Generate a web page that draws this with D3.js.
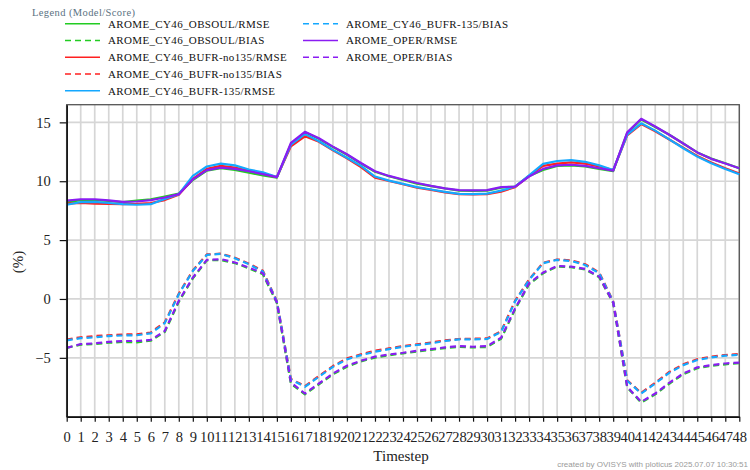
<!DOCTYPE html>
<html>
<head>
<meta charset="utf-8">
<script src="https://cdn.jsdelivr.net/npm/d3@7"></script>
<style>
  html, body { margin: 0; padding: 0; background: #fff; }
  svg { display: block; }
</style>
</head>
<body>
<svg id="chart" width="750" height="470"></svg>
<script>
// Timesteps 0..48
const timesteps = d3.range(0, 49);

// RMSE (%) per timestep
const obsoulRmse = [8.20, 8.40, 8.40, 8.32, 8.22, 8.35, 8.47, 8.70, 8.95, 10.10, 10.90, 11.10, 10.96, 10.73, 10.50, 10.30, 13.15, 14.15, 13.60, 12.90, 12.25, 11.50, 10.80, 10.42, 10.10, 9.80, 9.58, 9.38, 9.20, 9.18, 9.20, 9.45, 9.55, 10.45, 10.96, 11.30, 11.35, 11.25, 11.05, 10.85, 14.10, 15.25, 14.60, 13.95, 13.20, 12.45, 11.92, 11.52, 11.10];
const no135Rmse  = [8.10, 8.15, 8.10, 8.08, 8.05, 8.08, 8.15, 8.40, 8.85, 10.20, 11.05, 11.30, 11.15, 10.90, 10.65, 10.35, 12.97, 13.82, 13.35, 12.62, 11.95, 11.20, 10.30, 10.02, 9.74, 9.45, 9.26, 9.06, 8.90, 8.88, 8.90, 9.11, 9.50, 10.45, 11.30, 11.50, 11.60, 11.50, 11.25, 10.95, 13.90, 14.85, 14.25, 13.55, 12.85, 12.15, 11.60, 11.10, 10.65];
const b135Rmse   = [8.00, 8.22, 8.25, 8.15, 8.05, 8.00, 8.05, 8.50, 8.90, 10.45, 11.25, 11.50, 11.35, 11.00, 10.75, 10.35, 13.10, 14.00, 13.40, 12.66, 12.00, 11.30, 10.40, 10.05, 9.78, 9.50, 9.30, 9.10, 8.93, 8.90, 8.95, 9.20, 9.55, 10.50, 11.48, 11.72, 11.80, 11.65, 11.35, 10.95, 13.95, 14.92, 14.30, 13.56, 12.80, 12.09, 11.52, 11.04, 10.60];
const operRmse   = [8.35, 8.47, 8.47, 8.38, 8.25, 8.28, 8.40, 8.62, 8.90, 10.15, 10.95, 11.15, 11.05, 10.85, 10.60, 10.35, 13.25, 14.20, 13.65, 12.94, 12.29, 11.55, 10.85, 10.45, 10.15, 9.85, 9.60, 9.40, 9.25, 9.22, 9.25, 9.50, 9.55, 10.40, 11.05, 11.35, 11.40, 11.30, 11.10, 10.90, 14.15, 15.30, 14.65, 13.95, 13.20, 12.45, 11.90, 11.50, 11.10];

// BIAS (%) per timestep
const obsoulBias = [-4.15, -3.88, -3.82, -3.72, -3.65, -3.68, -3.55, -2.80, -0.25, 1.75, 3.28, 3.30, 3.05, 2.60, 2.10, -0.35, -7.20, -8.10, -7.25, -6.40, -5.75, -5.30, -4.98, -4.78, -4.62, -4.46, -4.32, -4.18, -4.06, -4.12, -4.08, -3.38, -0.88, 1.25, 2.18, 2.75, 2.70, 2.50, 1.85, -0.35, -7.52, -8.80, -8.10, -7.20, -6.40, -5.88, -5.68, -5.55, -5.46];
const no135Bias  = [-3.45, -3.25, -3.15, -3.08, -3.02, -3.00, -2.85, -1.98, 0.45, 2.42, 3.78, 3.85, 3.50, 3.00, 2.40, -0.20, -6.80, -7.40, -6.55, -5.70, -5.05, -4.70, -4.40, -4.20, -4.00, -3.85, -3.70, -3.52, -3.40, -3.38, -3.35, -2.75, -0.15, 1.65, 3.08, 3.35, 3.28, 2.95, 2.25, -0.20, -6.90, -7.98, -7.12, -6.20, -5.55, -5.12, -4.90, -4.76, -4.68];
const b135Bias   = [-3.52, -3.33, -3.26, -3.15, -3.10, -3.08, -2.92, -2.05, 0.40, 2.38, 3.74, 3.83, 3.46, 2.95, 2.33, -0.23, -6.85, -7.46, -6.61, -5.76, -5.13, -4.77, -4.48, -4.26, -4.06, -3.91, -3.77, -3.57, -3.43, -3.43, -3.40, -2.80, -0.20, 1.62, 3.04, 3.32, 3.23, 2.89, 2.19, -0.23, -6.95, -8.03, -7.18, -6.27, -5.62, -5.19, -4.96, -4.82, -4.74];
const operBias   = [-4.15, -3.83, -3.77, -3.65, -3.57, -3.57, -3.48, -2.72, -0.15, 1.81, 3.32, 3.38, 3.10, 2.67, 2.19, -0.30, -7.10, -8.03, -7.18, -6.33, -5.67, -5.25, -4.90, -4.71, -4.57, -4.40, -4.26, -4.11, -4.00, -4.06, -4.00, -3.30, -0.80, 1.33, 2.24, 2.81, 2.75, 2.55, 1.90, -0.30, -7.46, -8.74, -8.03, -7.12, -6.33, -5.81, -5.62, -5.48, -5.40];

const yTickValues = [-5, 0, 5, 10, 15];

const seriesNames = [
  "AROME_CY46_OBSOUL/RMSE", "AROME_CY46_OBSOUL/BIAS",
  "AROME_CY46_BUFR-no135/RMSE", "AROME_CY46_BUFR-no135/BIAS",
  "AROME_CY46_BUFR-135/RMSE", "AROME_CY46_BUFR-135/BIAS",
  "AROME_OPER/RMSE", "AROME_OPER/BIAS"
];
const seriesValues = [obsoulRmse, obsoulBias, no135Rmse, no135Bias, b135Rmse, b135Bias, operRmse, operBias];
const seriesColors = ["#22cc22", "#22cc22", "#ff2020", "#ff2020", "#14a8ff", "#14a8ff", "#8a1cf2", "#8a1cf2"];
const seriesDashed = [false, true, false, true, false, true, false, true];

const series = seriesNames.map((name, i) => ({
  name, values: seriesValues[i], color: seriesColors[i], dashed: seriesDashed[i]
}));

const svg = d3.select("#chart");
const serif = "'Liberation Serif', 'Times New Roman', serif";

const plot = { left: 66.7, right: 739.3, top: 104.7, bottom: 416.7 };
const x = d3.scaleLinear().domain([0, 48]).range([plot.left, plot.right]);
const y = d3.scaleLinear().domain([-10, 16.5]).range([plot.bottom, plot.top]);

// grid
const grid = svg.append("g");
grid.selectAll("line.v").data(timesteps).join("line")
  .attr("x1", d => x(d)).attr("x2", d => x(d))
  .attr("y1", plot.top).attr("y2", plot.bottom)
  .attr("stroke", "#d6d6d6").attr("stroke-width", 1.7);
grid.selectAll("line.h").data(yTickValues).join("line")
  .attr("x1", plot.left).attr("x2", plot.right)
  .attr("y1", d => y(d)).attr("y2", d => y(d))
  .attr("stroke", "#d6d6d6").attr("stroke-width", 1.7);

// frame
svg.append("rect")
  .attr("x", plot.left).attr("y", plot.top)
  .attr("width", plot.right - plot.left).attr("height", plot.bottom - plot.top)
  .attr("fill", "none").attr("stroke", "#555").attr("stroke-width", 1.3);

// lines
const line = d3.line().x((d, i) => x(timesteps[i])).y(d => y(d));
svg.append("g").selectAll("path").data(series).join("path")
  .attr("d", d => line(d.values))
  .attr("fill", "none")
  .attr("stroke", d => d.color)
  .attr("stroke-width", 2.2)
  .attr("stroke-dasharray", d => d.dashed ? "6,4" : null)
  .attr("stroke-linejoin", "round");

// axes
const xAxis = d3.axisBottom(x).tickValues(timesteps).tickFormat(d3.format("d"))
  .tickSize(5).tickSizeOuter(0).tickPadding(10);
const gx = svg.append("g").attr("transform", `translate(0,${plot.bottom})`).call(xAxis);
gx.selectAll("text").attr("font-family", serif).attr("font-size", 14.5).attr("fill", "#222");

const yAxis = d3.axisLeft(y).tickValues(yTickValues).tickFormat(d3.format("d"))
  .tickSize(7).tickSizeOuter(0).tickPadding(9);
const gy = svg.append("g").attr("transform", `translate(${plot.left},0)`).call(yAxis);
gy.selectAll("text").attr("font-family", serif).attr("font-size", 14.5).attr("fill", "#222");

[gx, gy].forEach(g => {
  g.select(".domain").attr("stroke", "#111").attr("stroke-width", 1.5);
  g.selectAll(".tick line").attr("stroke", "#111").attr("stroke-width", 1.2);
});

// axis titles
svg.append("text")
  .attr("x", 401).attr("y", 461)
  .attr("text-anchor", "middle")
  .attr("font-family", serif).attr("font-size", 15).attr("fill", "#222")
  .text("Timestep");
svg.append("text")
  .attr("transform", "translate(23,262) rotate(-90)")
  .attr("text-anchor", "middle")
  .attr("font-family", serif).attr("font-size", 15).attr("fill", "#222")
  .text("(%)");

// legend
svg.append("text")
  .attr("x", 32).attr("y", 16)
  .attr("font-family", serif).attr("font-size", 10.5).attr("letter-spacing", 0.4).attr("fill", "#5b7282")
  .text("Legend (Model/Score)");

const legendPos = series.map((d, i) => {
  const col = i < 5 ? 0 : 1;
  const row = i < 5 ? i : i - 5;
  return { x: col === 0 ? 65 : 303, y: 23.7 + row * 16.75 };
});
const lg = svg.append("g").selectAll("g").data(series).join("g")
  .attr("transform", (d, i) => `translate(${legendPos[i].x},${legendPos[i].y})`);
lg.append("line")
  .attr("x1", 0).attr("x2", 35).attr("y1", 0).attr("y2", 0)
  .attr("stroke", d => d.color).attr("stroke-width", 1.6)
  .attr("stroke-dasharray", d => d.dashed ? "6,4" : null);
lg.append("text")
  .attr("x", 43).attr("y", 4)
  .attr("font-family", serif).attr("font-size", 11).attr("letter-spacing", 0.35).attr("fill", "#111")
  .text(d => d.name);

// credit line, right-aligned in the bottom corner
svg.append("text")
  .attr("x", 748).attr("y", 467)
  .attr("text-anchor", "end")
  .attr("font-family", "'Liberation Sans', Arial, sans-serif").attr("font-size", 8).attr("fill", "#9a9a9a")
  .text("created by OVISYS with ploticus 2025.07.07 10:30:51");
</script>
</body>
</html>
